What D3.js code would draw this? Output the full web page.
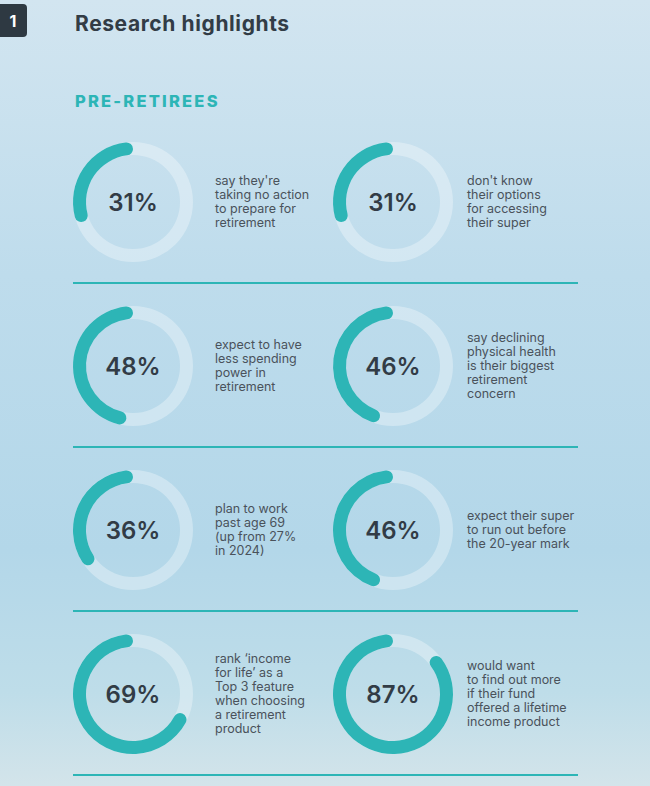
<!DOCTYPE html>
<html>
<head>
<meta charset="utf-8">
<script src="https://cdn.jsdelivr.net/npm/d3@7"></script>
<style>
  html, body { margin: 0; padding: 0; }
  body { width: 650px; height: 786px; overflow: hidden; }
  text { font-family: Inter, Lato, sans-serif; }
</style>
</head>
<body>
<div id="chart"></div>
<script>
var width = 650;
var height = 786;

// chart data
var percents = [31, 31, 48, 46, 36, 46, 69, 87];
var captions = [
  ["say they're", "taking no action", "to prepare for", "retirement"],
  ["don't know", "their options", "for accessing", "their super"],
  ["expect to have", "less spending", "power in", "retirement"],
  ["say declining", "physical health", "is their biggest", "retirement", "concern"],
  ["plan to work", "past age 69", "(up from 27%", "in 2024)"],
  ["expect their super", "to run out before", "the 20-year mark"],
  ["rank \u2018income", "for life\u2019 as a", "Top 3 feature", "when choosing", "a retirement", "product"],
  ["would want", "to find out more", "if their fund", "offered a lifetime", "income product"]
];
var title = "Research highlights";
var sectionLabel = "PRE-RETIREES";

var teal = "#2db5b6";
var dark = "#323c46";
var textColor = "#4a525b";

var svg = d3.select("#chart")
  .append("svg")
  .attr("width", width)
  .attr("height", height);

// background wash
var defs = svg.append("defs");
var grad = defs.append("linearGradient")
  .attr("id", "bg")
  .attr("x1", 0).attr("y1", 0).attr("x2", 0).attr("y2", 1);
grad.append("stop").attr("offset", "0%").attr("stop-color", "#d2e5f0");
grad.append("stop").attr("offset", "35%").attr("stop-color", "#bedcec");
grad.append("stop").attr("offset", "70%").attr("stop-color", "#b3d7e9");
grad.append("stop").attr("offset", "88%").attr("stop-color", "#bedde9");
grad.append("stop").attr("offset", "100%").attr("stop-color", "#d3e4ea");
svg.append("rect")
  .attr("width", width).attr("height", height)
  .attr("fill", "url(#bg)");

// page number badge
svg.append("rect")
  .attr("x", -6).attr("y", 4)
  .attr("width", 33).attr("height", 33)
  .attr("rx", 4)
  .attr("fill", "#2e3942");
svg.append("text")
  .attr("x", 13).attr("y", 27)
  .attr("text-anchor", "middle")
  .attr("fill", "#fff")
  .style("font-size", "16px")
  .style("font-weight", 700)
  .text("1");

svg.append("text")
  .attr("x", 75).attr("y", 31)
  .attr("fill", dark)
  .style("font-size", "21px")
  .style("font-weight", 700)
  .style("letter-spacing", "0.6px")
  .text(title);

svg.append("text")
  .attr("x", 75).attr("y", 107)
  .attr("fill", teal)
  .style("font-size", "16.5px")
  .style("font-weight", 800)
  .style("letter-spacing", "2.2px")
  .text(sectionLabel);

// layout scales
var rowY = d3.scaleLinear().domain([0, 3]).range([202, 694]);
var colX = d3.scaleOrdinal().domain([0, 1]).range([133, 393]);
var textX = d3.scaleOrdinal().domain([0, 1]).range([215, 467]);
var angle = d3.scaleLinear().domain([0, 100]).range([0, -2 * Math.PI]);

var outerR = 60, innerR = 47;
var arc = d3.arc()
  .innerRadius(innerR)
  .outerRadius(outerR)
  .cornerRadius((outerR - innerR) / 2);

var items = percents.map(function(p, i) {
  return {value: p, lines: captions[i], row: Math.floor(i / 2), col: i % 2};
});

var cell = svg.selectAll("g.stat")
  .data(items)
  .enter().append("g")
  .attr("class", "stat");

// track ring
cell.append("path")
  .attr("transform", function(d) { return "translate(" + colX(d.col) + "," + rowY(d.row) + ")"; })
  .attr("d", function() { return arc({startAngle: 0, endAngle: 2 * Math.PI}); })
  .attr("fill", "rgba(255,255,255,0.32)");

// value arc, drawn counter-clockwise from twelve o'clock
cell.append("path")
  .attr("transform", function(d) { return "translate(" + colX(d.col) + "," + rowY(d.row) + ")"; })
  .attr("d", function(d) { return arc({startAngle: angle(d.value), endAngle: 0}); })
  .attr("fill", teal);

cell.append("text")
  .attr("x", function(d) { return colX(d.col); })
  .attr("y", function(d) { return rowY(d.row) + 9; })
  .attr("text-anchor", "middle")
  .attr("fill", dark)
  .style("font-size", "24px")
  .style("font-weight", 600)
  .text(function(d) { return d.value + "%"; });

// captions: one text element per stat, one tspan per line
var lineH = 14;
cell.append("text")
  .attr("class", "cap")
  .attr("fill", textColor)
  .style("font-size", "12.5px")
  .each(function(d) {
    var n = d.lines.length;
    d3.select(this).selectAll("tspan")
      .data(d.lines)
      .enter().append("tspan")
      .attr("x", textX(d.col))
      .attr("y", function(l, j) { return rowY(d.row) + 4 + (j - (n - 1) / 2) * lineH; })
      .text(function(l) { return l; });
  });

// row separators
svg.selectAll("line.sep")
  .data(d3.range(4))
  .enter().append("line")
  .attr("class", "sep")
  .attr("x1", 73).attr("x2", 578)
  .attr("y1", function(r) { return rowY(r) + 81; })
  .attr("y2", function(r) { return rowY(r) + 81; })
  .attr("stroke", teal)
  .attr("stroke-width", 2);
</script>
</body>
</html>
